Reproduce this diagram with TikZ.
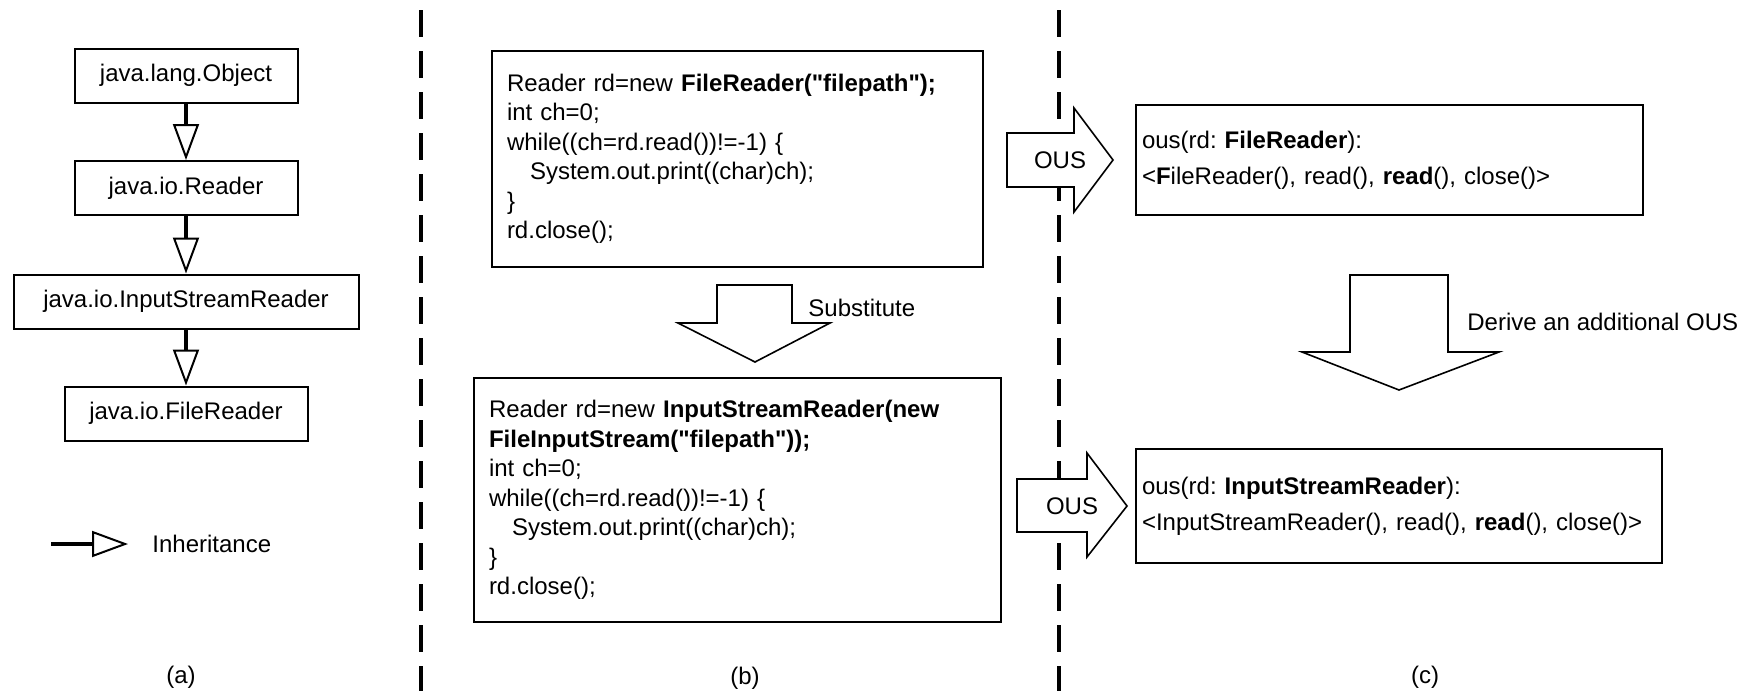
\documentclass[tikz,border=0pt]{standalone}
\usepackage{fontspec}
\setmainfont{Liberation Sans}
\usetikzlibrary{arrows.meta}
\frenchspacing

\tikzset{
  classbox/.style={draw, line width=1pt, minimum height=27pt, inner sep=0pt},
  codebox/.style={draw, line width=1pt, align=left, inner xsep=7.5pt, inner ysep=0pt,
    font=\fontsize{12}{14.75}\selectfont},
  ousbox/.style={draw, line width=1pt, align=left, inner xsep=3pt, inner ysep=0pt,
    font=\fontsize{12}{18}\selectfont},
  inherit/.style={line width=2pt, -{Triangle[open, length=18pt, width=13pt, line width=1pt]}},
  blockarrow/.style={draw, line width=0.8pt, fill=white, line join=miter},
  divider/.style={line width=2pt, dash pattern=on 13.5pt off 7pt},
}

\begin{document}
\begin{tikzpicture}[x=0.5pt, y=-0.5pt, font=\fontsize{12}{14.4}\selectfont]
  \useasboundingbox (0,0) rectangle (1756,691);

  % dividers between the three parts
  \draw[divider] (421,10) -- (421,691);
  \draw[divider] (1059,10) -- (1059,691);

  % (a) class hierarchy
  \node[classbox, minimum width=111.5pt] (obj) at (186,75.5) {java.lang.Object};
  \node[classbox, minimum width=111.5pt] (rdr) at (186,188) {java.io.Reader};
  \node[classbox, minimum width=172.5pt] (isr) at (186,301.5) {java.io.InputStreamReader};
  \node[classbox, minimum width=121.5pt] (frd) at (186,413.5) {java.io.FileReader};

  \draw[inherit] (obj) -- (rdr);
  \draw[inherit] (rdr) -- (isr);
  \draw[inherit] (isr) -- (frd);

  \coordinate (lgA) at (51,544);
  \coordinate (lgB) at (128,544);
  \draw[inherit] (lgA) -- (lgB);
  \node[anchor=west, inner sep=0pt] (lgtext) at (152,544) {Inheritance};

  \node (capa) at (181,677) {(a)};

  % (b) code before and after substitution
  \node[codebox, text width=230.5pt, minimum height=108pt] (code1) at (737.5,159)
    {Reader rd=new \textbf{FileReader(\textquotedbl filepath\textquotedbl);}\\
     int ch=0;\\
     while((ch=rd.read())!=-1) \{\\
     \hspace*{11.5pt}System.out.print((char)ch);\\
     \}\\
     rd.close();};

  \draw[blockarrow] (717,285) -- (792,285) -- (792,323) -- (830,323) -- (755,362)
    -- (678,323) -- (717,323) -- cycle;
  \node[anchor=west, inner sep=0pt] (subst) at (808,308) {Substitute};

  \node[codebox, text width=248.5pt, minimum height=122pt] (code2) at (737.5,500)
    {Reader rd=new \textbf{InputStreamReader(new}\\
     \textbf{FileInputStream(\textquotedbl filepath\textquotedbl));}\\
     int ch=0;\\
     while((ch=rd.read())!=-1) \{\\
     \hspace*{11.5pt}System.out.print((char)ch);\\
     \}\\
     rd.close();};

  \node (capb) at (745,678) {(b)};

  % (c) object usage sequences
  \draw[blockarrow] (1007,133) -- (1074,133) -- (1074,108) -- (1113,160) -- (1074,212)
    -- (1074,187) -- (1007,187) -- cycle;
  \node (ous1) at (1060,160) {OUS};

  \node[ousbox, text width=247.5pt, minimum height=55pt] (seq1) at (1389.5,160)
    {ous(rd: \textbf{FileReader}):\\
     <\textbf{F}ileReader(), read(), \textbf{read}(), close()>};

  \draw[blockarrow] (1350,275) -- (1448,275) -- (1448,352) -- (1499,352) -- (1399,390)
    -- (1302,352) -- (1350,352) -- cycle;
  \node[anchor=west, inner sep=0pt] (derive) at (1467,322) {Derive an additional OUS};

  \draw[blockarrow] (1017,479) -- (1087,479) -- (1087,453) -- (1127,506) -- (1087,557)
    -- (1087,532) -- (1017,532) -- cycle;
  \node (ous2) at (1072,506) {OUS};

  \node[ousbox, text width=257pt, minimum height=57pt] (seq2) at (1399,506)
    {ous(rd: \textbf{InputStreamReader}):\\
     <InputStreamReader(), read(), \textbf{read}(), close()>};

  \node (capc) at (1425,677) {(c)};
\end{tikzpicture}
\end{document}
